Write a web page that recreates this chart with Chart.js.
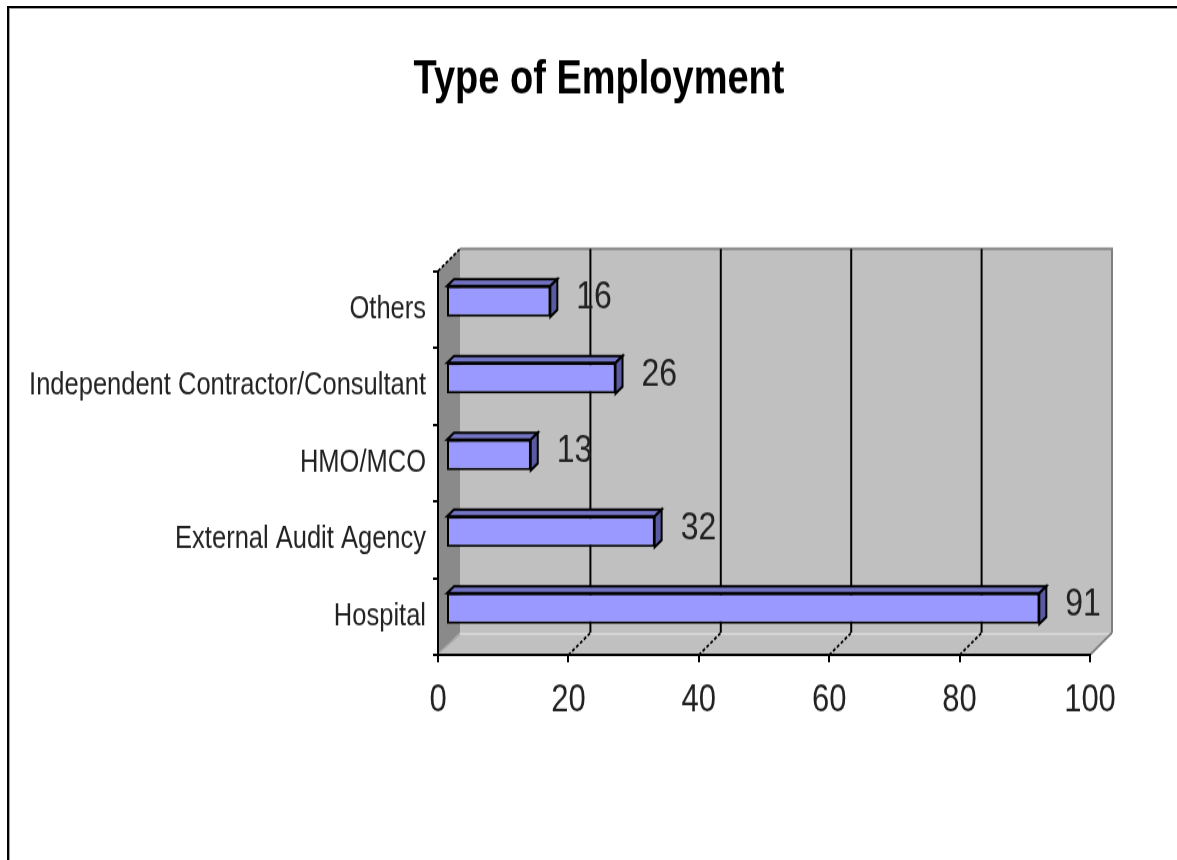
<!DOCTYPE html>
<html>
<head>
<meta charset="utf-8">
<script src="https://cdn.jsdelivr.net/npm/chart.js@4.4.0/dist/chart.umd.min.js"></script>
<style>
html, body { margin:0; padding:0; background:#fff; overflow:hidden; width:1177px; height:860px; }
#wrap { position:absolute; left:0; top:0; width:1177px; height:700px; transform:scaleY(1.228571); transform-origin:0 0; }
#frame { position:absolute; left:7px; top:6px; width:1200px; height:900px; border-top:2px solid #000; border-left:2px solid #000; box-shadow: inset 1px 1px 0 #a0a0a0; pointer-events:none; }
</style>
</head>
<body>
<div id="wrap"><canvas id="c" width="1177" height="700"></canvas></div>
<div id="frame"></div>
<script>
// ---- data ----
const categories = ['Others', 'Independent Contractor/Consultant', 'HMO/MCO', 'External Audit Agency', 'Hospital'];
const counts = [16, 26, 13, 32, 91];
const axisMin = 0;
const axisMax = 100;
const axisStep = 20;
const chartTitle = 'Type of Employment';

// ---- 3D look ----
const FONT = "'Liberation Sans', Arial, sans-serif";
const DEPTH_X = 22, DEPTH_Y = -18;      // wall depth
const BAR_OFF_X = 8, BAR_OFF_Y = -6.5;  // bar front face set back
const BAR_D_X = 7, BAR_D_Y = -5.7;      // bar depth

function poly(ctx, pts, fill, stroke, lw) {
  ctx.beginPath();
  ctx.moveTo(pts[0][0], pts[0][1]);
  for (let i = 1; i < pts.length; i++) ctx.lineTo(pts[i][0], pts[i][1]);
  ctx.closePath();
  if (fill) { ctx.fillStyle = fill; ctx.fill(); }
  if (stroke) { ctx.strokeStyle = stroke; ctx.lineWidth = lw || 1; ctx.stroke(); }
}
function line(ctx, x1, y1, x2, y2, color, lw, dash) {
  ctx.save();
  ctx.beginPath();
  ctx.setLineDash(dash || []);
  ctx.moveTo(x1, y1); ctx.lineTo(x2, y2);
  ctx.strokeStyle = color; ctx.lineWidth = lw; ctx.stroke();
  ctx.restore();
}

const titlePlugin = {
  id: 'centredTitle',
  afterDraw(chart) {
    const ctx = chart.ctx;
    ctx.save();
    ctx.fillStyle = '#000';
    ctx.font = 'bold 38px ' + FONT;
    ctx.textAlign = 'center';
    ctx.textBaseline = 'middle';
    ctx.fillText(chartTitle, 599, 65.1);
    ctx.restore();
  }
};

const wallsPlugin = {
  id: 'walls',
  beforeDraw(chart) {
    const ctx = chart.ctx, a = chart.chartArea, xs = chart.scales.x;
    const L = a.left, R = a.right, T = a.top, B = a.bottom;
    const dx = DEPTH_X, dy = DEPTH_Y;
    ctx.save();
    // left side wall
    poly(ctx, [[L, T], [L + dx, T + dy], [L + dx, B + dy], [L, B]], '#8a8a8a');
    // back wall
    poly(ctx, [[L + dx, T + dy], [R + dx, T + dy], [R + dx, B + dy], [L + dx, B + dy]], '#c0c0c0');
    // floor
    poly(ctx, [[L, B], [R, B], [R + dx, B + dy], [L + dx, B + dy]], '#c0c0c0');
    // light edge where floor meets back wall
    line(ctx, L + dx, B + dy + 1, R + dx, B + dy + 1, '#dcdcdc', 1.5);
    line(ctx, L, B - 1, L + dx, B + dy + 1, '#a8a8a8', 1.5);
    // back wall outer edges
    line(ctx, L + dx, T + dy, R + dx + 1, T + dy, '#808080', 2);
    line(ctx, R + dx, T + dy, R + dx, B + dy, '#808080', 2);
    line(ctx, R + dx, B + dy, R, B, '#808080', 2);
    // gridlines on the back wall + dashed floor lines
    xs.ticks.forEach(t => {
      if (t.value <= xs.min || t.value >= xs.max) return;
      const px = xs.getPixelForValue(t.value);
      line(ctx, px + dx, T + dy, px + dx, B + dy, '#000', 2);
      line(ctx, px, B, px + dx, B + dy, '#000', 1.8, [3, 2]);
    });
    // top edge of left wall
    line(ctx, L, T, L + dx, T + dy, '#000', 1.8, [3, 2]);
    ctx.restore();
  }
};

const bars3dPlugin = {
  id: 'bars3d',
  beforeDatasetsDraw(chart) {
    const ctx = chart.ctx;
    ctx.save();
    ctx.translate(BAR_OFF_X, BAR_OFF_Y);
    const meta = chart.getDatasetMeta(0);
    meta.data.forEach(bar => {
      const p = bar.getProps(['x', 'y', 'base', 'height'], true);
      const top = p.y - p.height / 2, bot = p.y + p.height / 2;
      const x0 = Math.min(p.base, p.x), x1 = Math.max(p.base, p.x);
      ctx.lineJoin = 'miter';
      // top face
      poly(ctx, [[x0, top], [x1, top], [x1 + BAR_D_X, top + BAR_D_Y], [x0 + BAR_D_X, top + BAR_D_Y]], '#7474c4', '#000', 2);
      // side face
      poly(ctx, [[x1, top], [x1 + BAR_D_X, top + BAR_D_Y], [x1 + BAR_D_X, bot + BAR_D_Y], [x1, bot]], '#5a5aa2', '#000', 2);
    });
  },
  afterDatasetsDraw(chart) {
    const ctx = chart.ctx;
    ctx.restore();
    const meta = chart.getDatasetMeta(0);
    const vals = chart.data.datasets[0].data;
    ctx.save();
    ctx.fillStyle = '#222';
    ctx.font = '32px ' + FONT;
    ctx.textAlign = 'left';
    ctx.textBaseline = 'middle';
    meta.data.forEach((bar, i) => {
      const p = bar.getProps(['x', 'y'], true);
      ctx.fillText(String(vals[i]), p.x + BAR_OFF_X + BAR_D_X + 19, p.y - 9.5);
    });
    ctx.restore();
  }
};

Chart.defaults.font.family = FONT;

new Chart(document.getElementById('c'), {
  type: 'bar',
  data: {
    labels: categories,
    datasets: [{
      data: counts,
      backgroundColor: '#9999ff',
      borderColor: '#000',
      borderWidth: 2,
      borderSkipped: false,
      barPercentage: 0.4,
      categoryPercentage: 1
    }]
  },
  options: {
    indexAxis: 'y',
    responsive: false,
    animation: false,
    devicePixelRatio: 1,
    layout: { padding: { left: 10, right: 87, top: 220.6, bottom: 0 } },
    plugins: {
      legend: { display: false },
      tooltip: { enabled: false },
      title: { display: false }
    },
    scales: {
      x: {
        type: 'linear',
        min: axisMin,
        max: axisMax,
        ticks: { stepSize: axisStep, color: '#222', font: { size: 31 }, padding: 12.5, maxRotation: 0 },
        grid: { drawOnChartArea: false, drawTicks: true, tickLength: 6, color: '#000', lineWidth: 2 },
        border: { display: true, color: '#000', width: 2 },
        afterFit(s) { s.height = 700 - 533.1; }
      },
      y: {
        ticks: { color: '#222', font: { size: 25.5 }, padding: 7, autoSkip: false },
        grid: { drawOnChartArea: false, drawTicks: true, tickLength: 5, color: '#000', lineWidth: 2, offset: true },
        border: { display: true, color: '#000', width: 2 },
        afterFit(s) { s.width = 428; }
      }
    }
  },
  plugins: [wallsPlugin, bars3dPlugin, titlePlugin]
});
</script>
</body>
</html>
